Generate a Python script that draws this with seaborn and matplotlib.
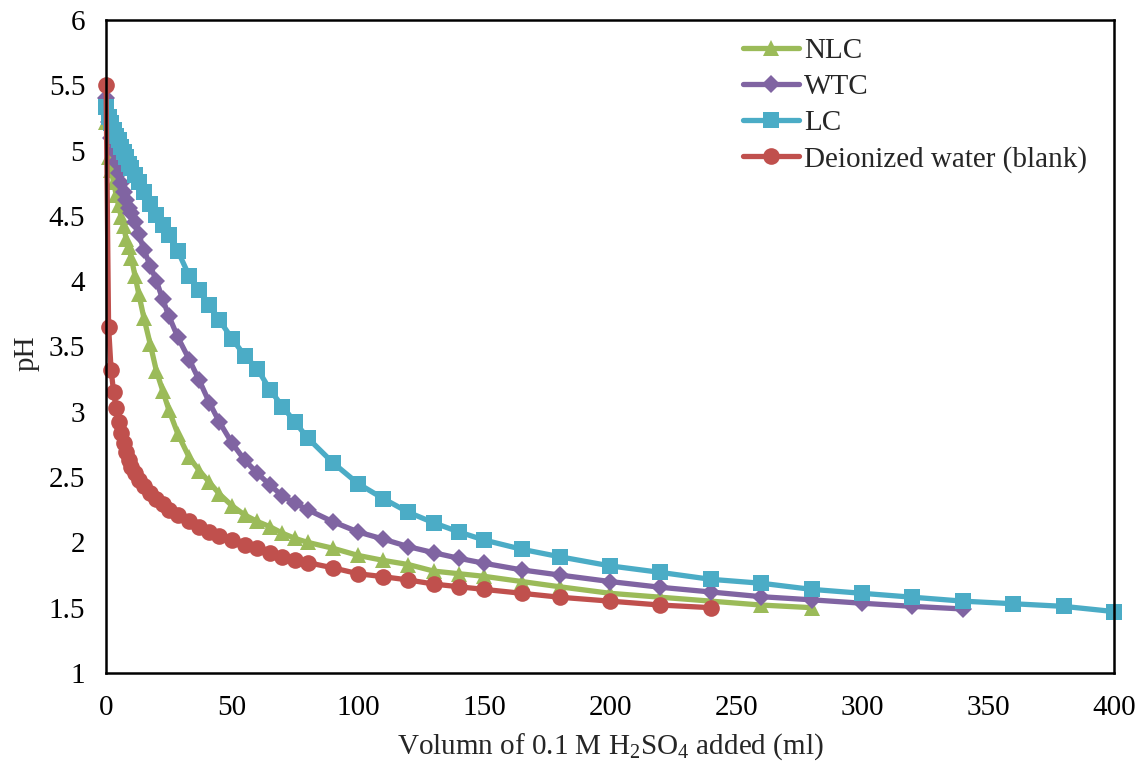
import matplotlib
matplotlib.use("Agg")
import matplotlib.pyplot as plt
import seaborn as sns
import pandas as pd

# Volume of acid added (ml) at each titration step
vol = [0, 1, 2, 3, 4, 5, 6, 7, 8, 9, 10, 11.5, 13, 15, 17.5, 20, 22.5, 25, 28.5,
       33, 37, 41, 45, 50, 55, 60, 65, 70, 75, 80, 90, 100, 110, 120, 130, 140,
       150, 165, 180, 200, 220, 240, 260, 280, 300, 320, 340, 360, 380, 400]

ph_nlc = [5.22, 4.95, 4.85, 4.76, 4.66, 4.58, 4.49, 4.42, 4.32, 4.26, 4.18, 4.04,
          3.90, 3.72, 3.52, 3.31, 3.16, 3.01, 2.83, 2.65, 2.55, 2.46, 2.37, 2.28,
          2.21, 2.16, 2.12, 2.07, 2.03, 2.00, 1.955, 1.90, 1.862, 1.83, 1.78, 1.76,
          1.74, 1.70, 1.66, 1.61, 1.58, 1.55, 1.52, 1.50]

ph_wtc = [5.40, 5.22, 5.10, 5.00, 4.91, 4.83, 4.75, 4.68, 4.62, 4.56, 4.52, 4.45,
          4.36, 4.24, 4.12, 4.00, 3.86, 3.73, 3.57, 3.40, 3.24, 3.07, 2.92, 2.76,
          2.63, 2.53, 2.44, 2.355, 2.30, 2.25, 2.158, 2.08, 2.025, 1.967, 1.921,
          1.878, 1.84, 1.789, 1.75, 1.70, 1.656, 1.62, 1.584, 1.56, 1.534, 1.51,
          1.49]

ph_lc = [5.33, 5.26, 5.21, 5.16, 5.11, 5.08, 5.03, 4.99, 4.95, 4.90, 4.87, 4.81,
         4.76, 4.68, 4.59, 4.51, 4.43, 4.35, 4.23, 4.04, 3.93, 3.82, 3.70, 3.56,
         3.43, 3.33, 3.17, 3.04, 2.92, 2.80, 2.61, 2.45, 2.335, 2.23, 2.15, 2.08,
         2.018, 1.947, 1.89, 1.82, 1.77, 1.717, 1.687, 1.64, 1.61, 1.58, 1.55,
         1.53, 1.51, 1.47]

ph_blank = [5.50, 3.65, 3.32, 3.15, 3.03, 2.92, 2.84, 2.76, 2.69, 2.63, 2.58, 2.53,
            2.48, 2.43, 2.38, 2.33, 2.29, 2.25, 2.21, 2.16, 2.12, 2.08, 2.045,
            2.015, 1.98, 1.955, 1.915, 1.89, 1.865, 1.845, 1.805, 1.76, 1.737,
            1.712, 1.681, 1.66, 1.64, 1.61, 1.58, 1.55, 1.52, 1.50]

series = [
    ("NLC", ph_nlc, "#9BBB59", "^", 12),
    ("WTC", ph_wtc, "#8064A2", "D", 9.5),
    ("LC", ph_lc, "#4BACC6", "s", 11),
    ("Deionized water (blank)", ph_blank, "#C0504D", "o", 12),
]

sns.set_style("white")
plt.rcParams["font.family"] = ["Liberation Serif", "DejaVu Serif"]
plt.rcParams["mathtext.fontset"] = "custom"
plt.rcParams["mathtext.rm"] = "Liberation Serif"
plt.rcParams["mathtext.it"] = "Liberation Serif:italic"

fig = plt.figure(figsize=(11.38, 7.63), dpi=100)
ax = fig.add_axes([0.0932, 0.118, 0.8858, 0.8558])

for name, ph, color, marker, ms in series:
    df = pd.DataFrame({"vol": vol[:len(ph)], "pH": ph})
    sns.lineplot(data=df, x="vol", y="pH", ax=ax, color=color, marker=marker,
                 markersize=ms, markeredgewidth=0, linewidth=3.8, label=name,
                 sort=False, estimator=None, clip_on=False)

ax.set_xlim(0, 400)
ax.set_ylim(1, 6)
ax.set_xticks(range(0, 401, 50))
yt = [1 + 0.5 * i for i in range(11)]
ax.set_yticks(yt)
ax.set_yticklabels([f"{v:g}" for v in yt])
ax.tick_params(axis="both", direction="in", length=6, width=1.5, labelsize=21,
               colors="black")
ax.tick_params(axis="y", pad=15)
ax.tick_params(axis="x", pad=16)
for s in ax.spines.values():
    s.set_color("black")
    s.set_linewidth(1.8)

ax.set_xlabel("Volumn of 0.1 M H$_2$SO$_4$ added (ml)", fontsize=21)
ax.set_ylabel("pH", fontsize=21)
ax.xaxis.set_label_coords(0.5, -0.089)
ax.yaxis.set_label_coords(-0.066, 0.49)

leg = ax.legend(loc="upper left", bbox_to_anchor=(0.632, 0.973), frameon=False,
                fontsize=21, handlelength=1.9, handletextpad=0.18,
                labelspacing=0.33, borderaxespad=0, borderpad=0)

fig.savefig("out.png", dpi=100)
